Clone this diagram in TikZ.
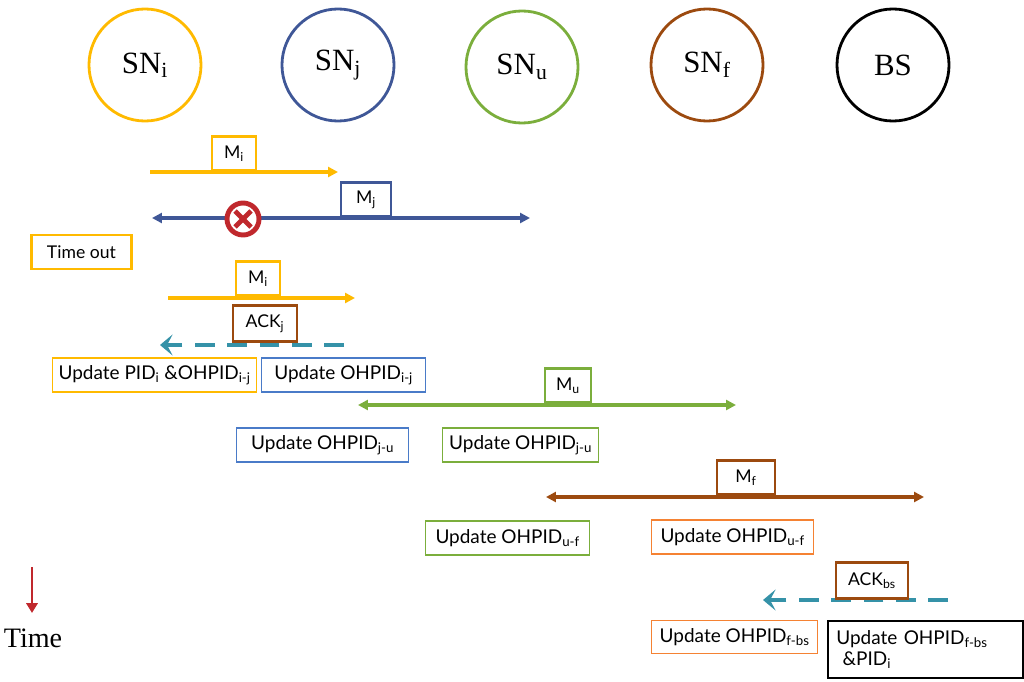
\documentclass[tikz,border=0pt]{standalone}
\usepackage{fontspec}
\setmainfont{Lato}
\newfontfamily\serifnode{Liberation Serif}
\usetikzlibrary{arrows.meta,positioning,shapes}

\definecolor{cyel}{HTML}{FFBA00}
\definecolor{cnavy}{HTML}{3F5797}
\definecolor{cblue}{HTML}{4A7BC8}
\definecolor{cgreen}{HTML}{7BAE3C}
\definecolor{cbrown}{HTML}{9C4A0F}
\definecolor{corange}{HTML}{F58233}
\definecolor{cteal}{HTML}{3592A8}
\definecolor{cred}{HTML}{C0282D}

\begin{document}
\begin{tikzpicture}[
    x=0.025cm, y=-0.025cm,
    sn/.style={circle, draw=#1, line width=2pt, minimum size=2.8cm, font=\serifnode\fontsize{22}{24}\selectfont},
    msg/.style={rectangle, draw=#1, fill=white, line width=2pt, minimum height=0.85cm, font=\fontsize{12.5}{14}\selectfont},
    upd/.style={rectangle, draw=#1, line width=1pt, minimum height=0.85cm, font=\fontsize{13.5}{15}\selectfont},
    link/.style={draw=#1, line width=2.6pt, -{Triangle[length=7pt,width=7pt,fill=#1]}},
    blink/.style={draw=#1, line width=2.6pt, {Triangle[length=7pt,width=7pt,fill=#1]}-{Triangle[length=7pt,width=7pt,fill=#1]}},
    ack/.style={draw=cteal, line width=3.5pt, dash pattern=on 14pt off 9pt, -{Stealth[length=9pt,width=15pt,inset=4pt,fill=cteal]}}
]
    \useasboundingbox (0,0) rectangle (1024,682);

    % nodes on top
    \node[sn=cyel] (SNi) at (145,65) {SN\textsubscript{i}};
    \node[sn=cnavy] (SNj) at (338,65) {SN\textsubscript{j}};
    \node[sn=cgreen] (SNu) at (522,67) {SN\textsubscript{u}};
    \node[sn=cbrown] (SNf) at (707,65) {SN\textsubscript{f}};
    \node[sn=black] (BS) at (893,65) {BS};

    % first try of M_i and M_j
    \coordinate (a1) at (150,172);
    \coordinate (a2) at (338,172);
    \draw[link=cyel] (a1) -- (a2);
    \node[msg=cyel, minimum width=1.1cm, anchor=south] (Mi1) at (234,172) {M\textsubscript{i}};

    \coordinate (b1) at (152,218);
    \coordinate (b2) at (530,218);
    \draw[blink=cnavy] (b1) -- (b2);
    \node[msg=cnavy, minimum width=1.25cm, anchor=south] (Mj) at (366,218) {M\textsubscript{j}};
    \node[circle, fill=white, draw=cred, line width=3.5pt, minimum size=0.8cm] (lost) at (243,219) {};
    \draw[cred, line width=3.5pt] ([shift={(-8,-8)}]lost.center) -- ([shift={(8,8)}]lost.center);
    \draw[cred, line width=3.5pt] ([shift={(-8,8)}]lost.center) -- ([shift={(8,-8)}]lost.center);

    \node[msg=cyel, minimum width=2.5cm, anchor=west] (tout) at (30,252) {Time out};

    % second try of M_i, ACK_j
    \coordinate (c1) at (168,298);
    \coordinate (c2) at (355,298);
    \draw[link=cyel] (c1) -- (c2);
    \node[msg=cyel, minimum width=1.1cm, anchor=south] (Mi2) at (258,297) {M\textsubscript{i}};

    \coordinate (d1) at (344,345);
    \coordinate (d2) at (160,345);
    \draw[ack] (d1) -- (d2);
    \node[msg=cbrown, fill=none, minimum width=1.6cm, minimum height=0.9cm, anchor=south] (ACKj) at (265,343) {ACK\textsubscript{j}};

    \node[upd=cyel, minimum width=5.1cm, anchor=west] (ui) at (52,375) {Update PID\textsubscript{i} \&OHPID\textsubscript{i-j}};
    \node[upd=cblue, minimum width=4.1cm, anchor=west] (uj) at (261,375) {Update OHPID\textsubscript{i-j}};

    % M_u
    \coordinate (e1) at (358,405);
    \coordinate (e2) at (736,405);
    \draw[blink=cgreen] (e1) -- (e2);
    \node[msg=cgreen, minimum width=1.15cm, anchor=south] (Mu) at (568,404) {M\textsubscript{u}};

    \node[upd=cblue, minimum width=4.3cm, anchor=west] (uj2) at (236,445) {Update OHPID\textsubscript{j-u}};
    \node[upd=cgreen, minimum width=3.9cm, anchor=west] (uu) at (442,445) {Update OHPID\textsubscript{j-u}};

    % M_f
    \coordinate (f1) at (546,497);
    \coordinate (f2) at (924,497);
    \draw[blink=cbrown] (f1) -- (f2);
    \node[msg=cbrown, minimum width=1.45cm, anchor=south] (Mf) at (746,496) {M\textsubscript{f}};

    \node[upd=cgreen, minimum width=4.1cm, anchor=west] (uu2) at (425,538) {Update OHPID\textsubscript{u-f}};
    \node[upd=corange, minimum width=4.05cm, anchor=west] (uf) at (651,537) {Update OHPID\textsubscript{u-f}};

    % ACK_bs
    \coordinate (g1) at (948,600);
    \coordinate (g2) at (763,600);
    \draw[ack] (g1) -- (g2);
    \node[msg=cbrown, fill=none, minimum width=1.8cm, minimum height=0.9cm, anchor=south] (ACKbs) at (872,600) {ACK\textsubscript{bs}};

    \node[upd=corange, minimum width=4.15cm, minimum height=0.82cm, anchor=west] (uf2) at (651,637) {Update OHPID\textsubscript{f-bs}};
    \node[upd=black, line width=1.3pt, text width=4.45cm, inner xsep=6pt, minimum height=1.42cm, anchor=north west, align=left] (ubs) at (827,620) {Update OHPID\textsubscript{f-bs}\\ \ \&PID\textsubscript{i}};

    % time axis
    \coordinate (t0) at (32,567);
    \coordinate (t1) at (32,613);
    \draw[cred, line width=2pt, -{Triangle[length=7pt,width=8pt]}] (t0) -- (t1);
    \node[font=\serifnode\fontsize{20}{22}\selectfont] (time) at (33,638) {Time};
\end{tikzpicture}
\end{document}
